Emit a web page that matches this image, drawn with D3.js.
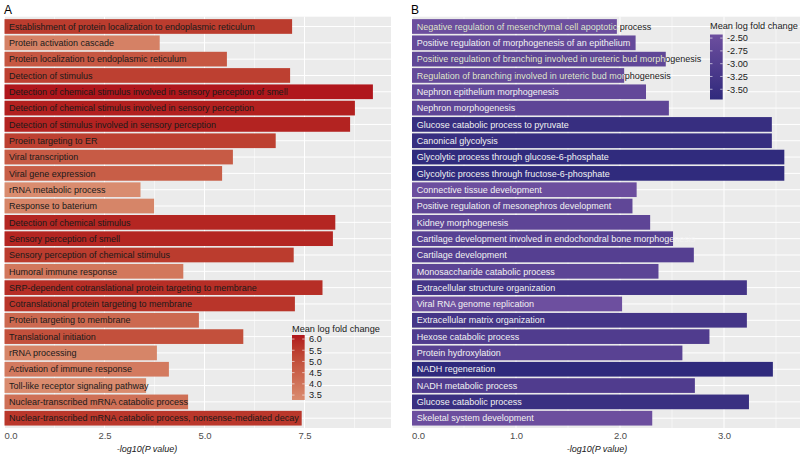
<!DOCTYPE html>
<html><head><meta charset="utf-8">
<script src="https://cdn.jsdelivr.net/npm/d3@7"></script>
<style>
html,body{margin:0;padding:0;background:#fff;}
svg text{font-family:"Liberation Sans",Arial,sans-serif;}
</style></head>
<body>
<svg id="chart" width="800" height="458"></svg>
<script>
// ---------------- DATA ----------------
const categoriesA = [
  "Establishment of protein localization to endoplasmic reticulum",
  "Protein activation cascade",
  "Protein localization to endoplasmic reticulum",
  "Detection of stimulus",
  "Detection of chemical stimulus involved in sensory perception of smell",
  "Detection of chemical stimulus involved in sensory perception",
  "Detection of stimulus involved in sensory perception",
  "Proein targeting to ER",
  "Viral transcription",
  "Viral gene expression",
  "rRNA metabolic process",
  "Response to baterium",
  "Detection of chemical stimulus",
  "Sensory perception of smell",
  "Sensory perception of chemical stimulus",
  "Humoral immune response",
  "SRP-dependent cotranslational protein targeting to membrane",
  "Cotranslational protein targeting to membrane",
  "Protein targeting to membrane",
  "Translational initiation",
  "rRNA processing",
  "Activation of immune response",
  "Toll-like receptor signaling pathway",
  "Nuclear-transcribed mRNA catabolic process",
  "Nuclear-transcribed mRNA catabolic process, nonsense-mediated decay"
];
const pvalA = [7.19, 3.88, 5.56, 7.14, 9.21, 8.76, 8.64, 6.78, 5.71, 5.44, 3.40, 3.74, 8.27, 8.21, 7.23, 4.47, 7.95, 7.26, 4.86, 5.97, 3.81, 4.11, 3.54, 4.59, 7.43];
const lfcA  = [5.50, 3.60, 4.80, 5.40, 6.18, 6.05, 6.00, 5.40, 4.70, 4.60, 3.28, 3.50, 5.95, 5.95, 5.50, 3.90, 5.80, 5.65, 4.30, 5.00, 3.50, 3.80, 3.30, 4.10, 5.60];

const categoriesB = [
  "Negative regulation of mesenchymal cell apoptotic process",
  "Positive regulation of morphogenesis of an epithelium",
  "Positive regulation of branching involved in ureteric bud morphogenesis",
  "Regulation of branching involved in ureteric bud morphogenesis",
  "Nephron epithelium morphogenesis",
  "Nephron morphogenesis",
  "Glucose catabolic process to pyruvate",
  "Canonical glycolysis",
  "Glycolytic process through glucose-6-phosphate",
  "Glycolytic process through fructose-6-phosphate",
  "Connective tissue development",
  "Positive regulation of mesonephros development",
  "Kidney morphogenesis",
  "Cartilage development involved in endochondral bone morphogenesis",
  "Cartilage development",
  "Monosaccharide catabolic process",
  "Extracellular structure organization",
  "Viral RNA genome replication",
  "Extracellular matrix organization",
  "Hexose catabolic process",
  "Protein hydroxylation",
  "NADH regeneration",
  "NADH metabolic process",
  "Glucose catabolic process",
  "Skeletal system development"
];
const pvalB = [1.97, 2.15, 2.44, 2.04, 2.25, 2.47, 3.46, 3.46, 3.58, 3.58, 2.16, 2.12, 2.29, 2.51, 2.71, 2.37, 3.22, 2.02, 3.22, 2.86, 2.60, 3.47, 2.72, 3.24, 2.31];
const lfcB  = [-2.45, -2.60, -2.70, -2.60, -2.65, -2.75, -3.55, -3.55, -3.68, -3.68, -2.45, -2.70, -2.75, -2.90, -2.95, -2.80, -3.30, -2.43, -3.30, -3.05, -2.85, -3.70, -3.05, -3.50, -2.45];
// labels whose overflow part is printed in dark ink in the original
const darkOverflowB = [true, false, true, true, false, false, false, false, false, false, false, false, false, false, false, false, false, false, false, false, false, false, false, false, false];

const ticksA = [0, 2.5, 5, 7.5];
const minorA = [1.25, 3.75, 6.25, 8.75];
const ticksB = [0, 1, 2, 3];
const minorB = [0.5, 1.5, 2.5, 3.5];
const legendTicksA = [3.5, 4.0, 4.5, 5.0, 5.5, 6.0];
const legendTicksB = [-2.50, -2.75, -3.00, -3.25, -3.50];

// ---------------- DRAW ----------------
const svg = d3.select("#chart");
const panelTop = 16.7, panelBottom = 428;
const defs = svg.append("defs");
const FS = 9.0;

function panel(o) {
  const g = svg.append("g");
  const x = d3.scaleLinear().domain([0, o.xmax]).range([o.left, o.right]);
  const y = d3.scaleBand().domain(o.cats).range([panelTop, panelBottom]).paddingInner(0.1).paddingOuter(0.15);
  const col = d3.scaleLinear().domain(d3.extent(o.lfc)).range(o.colRange).interpolate(d3.interpolateLab);

  g.append("rect").attr("x", o.left).attr("y", panelTop).attr("width", o.right - o.left).attr("height", panelBottom - panelTop).attr("fill", "#ebebeb");
  g.selectAll(".mn").data(o.minor).join("line")
    .attr("x1", d => x(d)).attr("x2", d => x(d)).attr("y1", panelTop).attr("y2", panelBottom)
    .attr("stroke", "#fff").attr("stroke-width", 0.5);
  g.selectAll(".mj").data(o.ticks).join("line")
    .attr("x1", d => x(d)).attr("x2", d => x(d)).attr("y1", panelTop).attr("y2", panelBottom)
    .attr("stroke", "#fff").attr("stroke-width", 1);
  g.selectAll(".hg").data(o.cats).join("line")
    .attr("x1", o.left).attr("x2", o.right)
    .attr("y1", d => y(d) + y.bandwidth() / 2).attr("y2", d => y(d) + y.bandwidth() / 2)
    .attr("stroke", "#fff").attr("stroke-width", 1);

  const idx = d3.range(o.cats.length);
  g.selectAll(".bar").data(idx).join("rect")
    .attr("x", x(0)).attr("y", i => y(o.cats[i]))
    .attr("width", i => x(o.pval[i]) - x(0)).attr("height", y.bandwidth())
    .attr("fill", i => col(o.lfc[i]));

  idx.forEach(i => {
    const yy = y(o.cats[i]) + y.bandwidth() / 2 + 3.2;
    if (o.textColor === "dark") {
      g.append("text").attr("x", x(0) + 4.5).attr("y", yy).attr("font-size", FS)
        .attr("fill", "#1a1a1a").text(o.cats[i]);
    } else {
      if (o.darkOverflow[i]) {
        g.append("text").attr("x", x(0) + 4.7).attr("y", yy).attr("font-size", FS)
          .attr("fill", "#1a1a1a").text(o.cats[i]);
        const id = "clipB" + i;
        defs.append("clipPath").attr("id", id).append("rect")
          .attr("x", x(0)).attr("y", y(o.cats[i])).attr("width", x(o.pval[i]) - x(0)).attr("height", y.bandwidth());
        g.append("text").attr("x", x(0) + 4.7).attr("y", yy).attr("font-size", FS)
          .attr("fill", "#f2f2f2").attr("clip-path", `url(#${id})`).text(o.cats[i]);
      } else {
        g.append("text").attr("x", x(0) + 4.7).attr("y", yy).attr("font-size", FS)
          .attr("fill", "#f2f2f2").text(o.cats[i]);
      }
    }
  });

  const ax = g.append("g").attr("transform", `translate(0,${panelBottom})`)
    .call(d3.axisBottom(x).tickValues(o.ticks).tickFormat(d => d.toFixed(1)).tickSize(0).tickPadding(4));
  ax.select(".domain").remove();
  ax.selectAll("text").attr("font-size", 9.5).attr("fill", "#4d4d4d").attr("font-family", '"Liberation Sans",Arial,sans-serif');
  ax.selectAll(".tick").filter(d => d === 0).select("text").attr("dx", 6);

  g.append("text").attr("x", o.titleX).attr("y", 452).attr("text-anchor", "middle")
    .attr("font-size", 9).attr("font-style", "italic").attr("fill", "#1a1a1a").text("-log10(P value)");

  g.append("text").attr("x", o.panelLabelX).attr("y", 13.5).attr("font-size", 12).attr("fill", "#000").text(o.panelLabel);

  const L = o.legend;
  const ext = d3.extent(o.lfc);
  const ly = d3.scaleLinear().domain(ext).range([L.y1, L.y0]);
  const gid = "grad" + o.panelLabel;
  const grad = defs.append("linearGradient").attr("id", gid).attr("x1", 0).attr("x2", 0).attr("y1", 1).attr("y2", 0);
  d3.range(0, 1.0001, 0.1).forEach(t => {
    grad.append("stop").attr("offset", t).attr("stop-color", col(ext[0] + t * (ext[1] - ext[0])));
  });
  g.append("text").attr("x", L.x).attr("y", L.titleY).attr("font-size", 9.2).attr("fill", "#1a1a1a").text("Mean log fold change");
  g.append("rect").attr("x", L.x).attr("y", L.y0).attr("width", 12.7).attr("height", L.y1 - L.y0).attr("fill", `url(#${gid})`);
  L.ticks.forEach(t => {
    const yy = ly(t);
    g.append("line").attr("x1", L.x).attr("x2", L.x + 2.5).attr("y1", yy).attr("y2", yy).attr("stroke", "#fff").attr("stroke-width", 0.6);
    g.append("line").attr("x1", L.x + 10.2).attr("x2", L.x + 12.7).attr("y1", yy).attr("y2", yy).attr("stroke", "#fff").attr("stroke-width", 0.6);
    g.append("text").attr("x", L.x + 17).attr("y", yy + 3.3).attr("font-size", 9.2).attr("fill", "#1a1a1a").text(t.toFixed(L.dec));
  });
}

panel({
  cats: categoriesA, pval: pvalA, lfc: lfcA,
  left: 4.5, right: 391, xmax: (391 - 4.5) / 40,
  ticks: ticksA, minor: minorA,
  colRange: ["#d98c6f", "#b0161c"], textColor: "dark",
  titleX: 147, panelLabel: "A", panelLabelX: 4,
  legend: { x: 292, y0: 335, y1: 400, titleY: 331.5, ticks: legendTicksA, dec: 1 }
});

panel({
  cats: categoriesB, pval: pvalB, lfc: lfcB, darkOverflow: darkOverflowB,
  left: 412, right: 800, xmax: (800 - 412) / 104,
  ticks: ticksB, minor: minorB,
  colRange: ["#2f2a7c", "#6d4f9f"], textColor: "light",
  titleX: 597, panelLabel: "B", panelLabelX: 411,
  legend: { x: 710, y0: 34.5, y1: 99.5, titleY: 29, ticks: legendTicksB, dec: 2 }
});
</script>
</body></html>
